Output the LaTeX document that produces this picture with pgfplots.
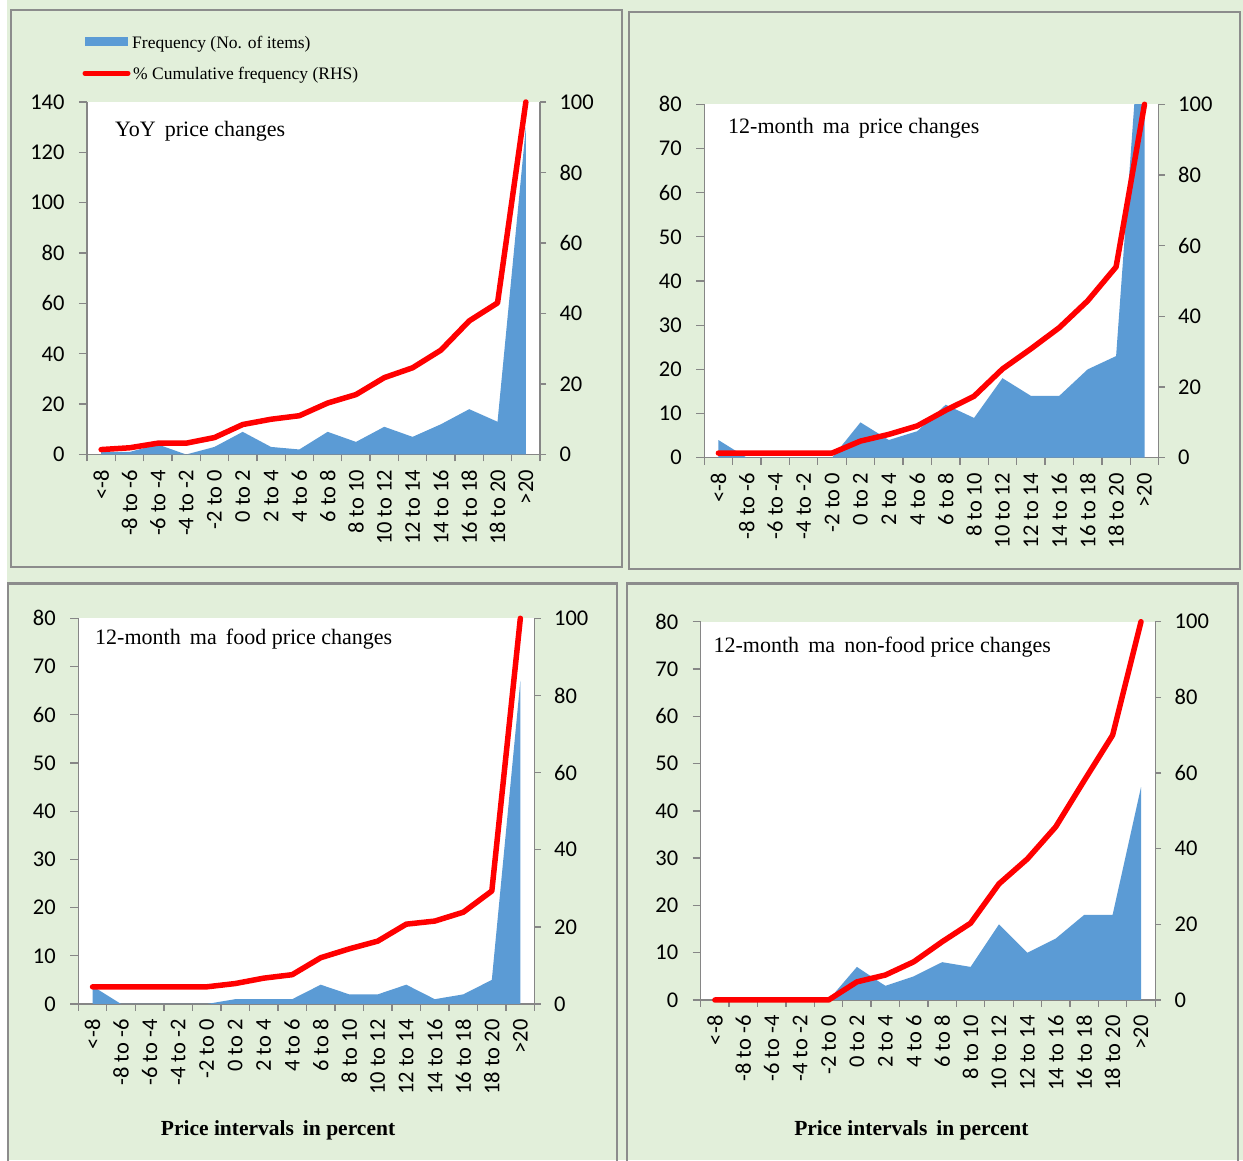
\documentclass[border=0pt]{standalone}
\usepackage{fontspec}
\setmainfont{Liberation Serif}
\newfontfamily\carlito{Carlito}
\usepackage{pgfplots}
\pgfplotsset{compat=1.18}
\definecolor{bg}{HTML}{E2EFDA}
\definecolor{bluef}{HTML}{5B9BD5}
\definecolor{axgray}{HTML}{868686}
\definecolor{boxgray}{HTML}{8C8C8C}
\newcommand\tickfont{\carlito\fontsize{22.5}{26}\selectfont}
\newcommand\titlefont{\fontsize{22}{26}\selectfont}
\pgfplotsset{
  base/.style={
    scale only axis,
    xmin=-0.5, xmax=15.5, ymin=0,
    anchor=south west,
    axis line style={axgray, line width=1.3pt},
    tick style={axgray, line width=1.3pt},
    tick align=outside,
    major tick length=8pt,
    minor tick length=7pt,
    /pgf/number format/assume math mode=true,
    ticklabel style={font=\tickfont, text=black},
  },
  leftax/.style={base,
    axis y line*=left, axis x line*=bottom,
    axis background/.style={fill=white},
    xtick={0,...,15},
    xticklabels={{<-8},{-8 to -6},{-6 to -4},{-4 to -2},{-2 to 0},{0 to 2},{2 to 4},{4 to 6},{6 to 8},{8 to 10},{10 to 12},{12 to 14},{14 to 16},{16 to 18},{18 to 20},{>20}},
    major x tick style={draw=none},
    minor xtick={-0.5,0.5,...,15.5},
    xticklabel style={rotate=90, anchor=east, xshift=-4pt},
    yticklabel style={xshift=-11pt},
  },
  rightax/.style={base,
    axis y line*=right, axis x line=none, clip=false,
    ymax=100, ytick={0,20,...,100},
    major tick length=6pt,
    yticklabel style={anchor=west, xshift=10pt},
  },
  blue area/.style={fill=bluef, draw=none},
  red line/.style={red, line width=5.5pt, line join=round, line cap=round},
}
\begin{document}
\begin{tikzpicture}
\path[use as bounding box] (0pt,0pt) rectangle (1243pt,1160pt);
\fill[white] (0pt,0pt) rectangle (1243pt,1160pt);
\fill[bg] (7pt,0pt) rectangle (1243pt,1160pt);
\draw[boxgray, line width=2.5pt] (11pt,593pt) rectangle (622pt,1150pt);
\draw[boxgray, line width=2.5pt] (629pt,591pt) rectangle (1240pt,1148pt);
\draw[boxgray, line width=2.5pt] (8pt,-10pt) rectangle (617pt,576.7pt);
\draw[boxgray, line width=2.5pt] (627pt,-10pt) rectangle (1238pt,576.7pt);

% ---------- Panel 1: YoY ----------
\begin{axis}[leftax, at={(87pt,705.5pt)}, width=453pt, height=352.5pt,
  ymax=140, ytick={0,20,...,140}]
\addplot[blue area] coordinates {(0,1)(1,1)(2,4)(3,0)(4,3)(5,9)(6,3)(7,2)(8,9)(9,5)(10,11)(11,7)(12,12)(13,18)(14,13)(15,130)} \closedcycle;
\end{axis}
\begin{axis}[rightax, at={(87pt,705.5pt)}, width=453pt, height=352.5pt]
\addplot[red line] coordinates {(0,1.4)(1,1.9)(2,3.2)(3,3.2)(4,4.8)(5,8.5)(6,10.0)(7,11.0)(8,14.6)(9,17.0)(10,21.8)(11,24.6)(12,29.6)(13,37.9)(14,43.0)(15,100)};
\end{axis}
\node[anchor=base west, font=\titlefont, inner sep=0pt] at (115pt,1023.3pt) {YoY\, price changes};
% legend
\fill[bluef] (85pt,1114pt) rectangle (128pt,1123pt);
\draw[red, line width=5pt, line cap=round] (85pt,1086.7pt) -- (128pt,1086.7pt);
\node[anchor=base west, font=\fontsize{17.5}{20}\selectfont, inner sep=0pt] at (132pt,1111.7pt) {Frequency (No. of items)};
\node[anchor=base west, font=\fontsize{17.5}{20}\selectfont, inner sep=0pt] at (133pt,1080.7pt) {\% Cumulative frequency (RHS)};

% ---------- Panel 2: 12-month ma ----------
\begin{axis}[leftax, at={(704.2pt,702.3pt)}, width=454.5pt, height=353.4pt,
  ymax=80, ytick={0,10,...,80}]
\addplot[blue area] coordinates {(0,4)(1,0)(2,0)(3,0)(4,0)(5,8)(6,4)(7,6)(8,12)(9,9)(10,18)(11,14)(12,14)(13,20)(14,23)(15,112)} \closedcycle;
\end{axis}
\begin{axis}[rightax, at={(704.2pt,702.3pt)}, width=454.5pt, height=353.4pt]
\addplot[red line] coordinates {(0,1.3)(1,1.3)(2,1.3)(3,1.3)(4,1.3)(5,4.7)(6,6.6)(7,9.0)(8,13.4)(9,17.4)(10,25.1)(11,30.8)(12,36.8)(13,44.4)(14,54.0)(15,100)};
\end{axis}
\node[anchor=base west, font=\titlefont, inner sep=0pt] at (728pt,1026.7pt) {12-month\, ma\, price changes};

% ---------- Panel 3: food ----------
\begin{axis}[leftax, at={(78.3pt,156pt)}, width=456.3pt, height=385.7pt,
  ymax=80, ytick={0,10,...,80}]
\addplot[blue area] coordinates {(0,3.7)(1,0)(2,0)(3,0)(4,0)(5,1)(6,1)(7,1)(8,4)(9,2)(10,2)(11,4)(12,1)(13,2)(14,5)(15,67)} \closedcycle;
\end{axis}
\begin{axis}[rightax, at={(78.3pt,156pt)}, width=456.3pt, height=385.7pt]
\addplot[red line] coordinates {(0,4.45)(1,4.45)(2,4.45)(3,4.45)(4,4.45)(5,5.3)(6,6.7)(7,7.6)(8,12.0)(9,14.3)(10,16.3)(11,20.7)(12,21.5)(13,23.8)(14,29.3)(15,100)};
\end{axis}
\node[anchor=base west, font=\titlefont, inner sep=0pt] at (95pt,515pt) {12-month\, ma\, food price changes};
\node[anchor=base, font=\fontsize{21.5}{25}\selectfont\bfseries, inner sep=0pt] at (278pt,24pt) {Price intervals\, in percent};

% ---------- Panel 4: non-food ----------
\begin{axis}[leftax, at={(700.7pt,160pt)}, width=454.5pt, height=378.3pt,
  ymax=80, ytick={0,10,...,80}]
\addplot[blue area] coordinates {(0,0)(1,0)(2,0)(3,0)(4,0)(5,7)(6,3)(7,5)(8,8)(9,7)(10,16)(11,10)(12,13)(13,18)(14,18)(15,45)} \closedcycle;
\end{axis}
\begin{axis}[rightax, at={(700.7pt,160pt)}, width=454.5pt, height=378.3pt]
\addplot[red line] coordinates {(0,0)(1,0)(2,0)(3,0)(4,0)(5,4.8)(6,6.6)(7,10.1)(8,15.4)(9,20.3)(10,30.7)(11,37.3)(12,45.8)(13,58.0)(14,70.0)(15,100)};
\end{axis}
\node[anchor=base west, font=\titlefont, inner sep=0pt] at (713.4pt,507.3pt) {12-month\, ma\, non-food price changes};
\node[anchor=base, font=\fontsize{21.5}{25}\selectfont\bfseries, inner sep=0pt] at (911.4pt,24pt) {Price intervals\, in percent};
\end{tikzpicture}
\end{document}
